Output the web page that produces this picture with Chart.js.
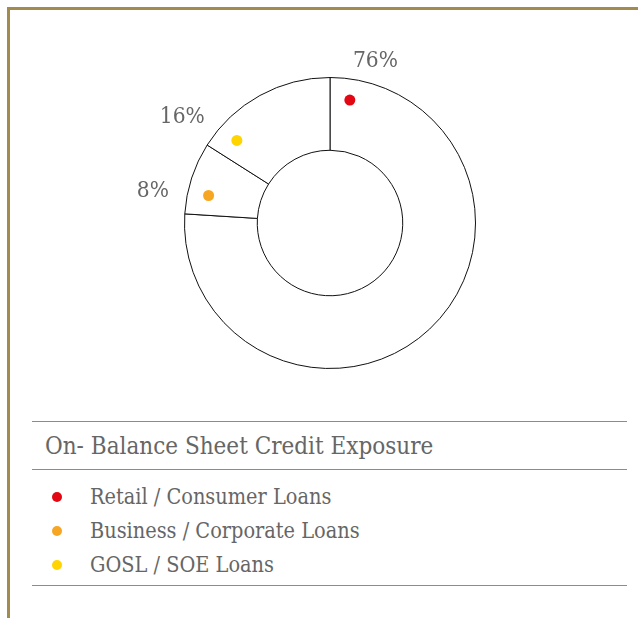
<!DOCTYPE html>
<html>
<head>
<meta charset="utf-8">
<script src="https://cdn.jsdelivr.net/npm/chart.js@4"></script>
<style>
  body { margin: 0; background: #fff; font-family: "DejaVu Serif Condensed", "DejaVu Serif", serif; color: #666; }
  .frame { position: absolute; left: 7px; top: 7px; right: 0; bottom: 0; border-top: 3px solid #a38b4f; border-left: 3px solid #a38b4f; }
  .chart-box { position: absolute; left: 110px; top: 30px; width: 440px; height: 386px; }
  .panel { position: absolute; left: 32px; top: 421px; width: 595px; }
  .panel h2 { margin: 0; font-weight: normal; font-size: 24px; line-height: 45px; padding: 2px 0 0 13px; border-top: 1px solid #8c8c8c; border-bottom: 1px solid #8c8c8c; }
  .panel ul { list-style: none; margin: 0; padding: 10px 0 3px; border-bottom: 1px solid #8c8c8c; }
  .panel li { font-size: 21.5px; line-height: 34px; padding-left: 58px; position: relative; }
  .panel li span { position: absolute; left: 20px; top: 12px; width: 10px; height: 10px; border-radius: 50%; }
</style>
</head>
<body>
<div class="frame"></div>
<div class="chart-box"><canvas id="exposureChart"></canvas></div>
<div class="panel">
  <h2 id="title"></h2>
  <ul id="legend"></ul>
</div>
<script>
const title = 'On- Balance Sheet Credit Exposure';
const categories = ['Retail / Consumer Loans', 'Business / Corporate Loans', 'GOSL / SOE Loans'];
const shares = [76, 8, 16];
const dotColors = ['#e30613', '#f6a623', '#ffd400'];

document.getElementById('title').textContent = title;
const legend = document.getElementById('legend');
categories.forEach((name, i) => {
  const li = document.createElement('li');
  li.innerHTML = '<span style="background:' + dotColors[i] + '"></span>' + name;
  legend.appendChild(li);
});

// dots near each slice's leading edge plus the percentage outside the ring
const sliceMarkers = {
  id: 'sliceMarkers',
  afterDatasetsDraw(chart) {
    const ctx = chart.ctx;
    const meta = chart.getDatasetMeta(0);
    ctx.save();
    meta.data.forEach((arc, i) => {
      const { x, y, startAngle, outerRadius } = arc.getProps(['x', 'y', 'startAngle', 'outerRadius'], true);
      const a = startAngle + 0.16;
      ctx.fillStyle = dotColors[i];
      ctx.beginPath();
      ctx.arc(x + Math.cos(a) * (outerRadius - 21), y + Math.sin(a) * (outerRadius - 21), 5.5, 0, Math.PI * 2);
      ctx.fill();

      const la = startAngle + 0.14;
      const lx = x + Math.cos(la) * (outerRadius + 19);
      const ly = y + Math.sin(la) * (outerRadius + 19);
      ctx.fillStyle = '#666';
      ctx.font = '22.5px "DejaVu Serif Condensed", "DejaVu Serif", serif';
      ctx.textBaseline = 'middle';
      ctx.textAlign = Math.cos(la) >= 0 ? 'left' : 'right';
      ctx.fillText(shares[i] + '%', lx, ly + 1);
    });
    ctx.restore();
  }
};

new Chart(document.getElementById('exposureChart'), {
  type: 'doughnut',
  data: {
    labels: categories,
    datasets: [{
      data: shares,
      backgroundColor: '#fff',
      borderColor: '#111',
      borderWidth: 1,
      hoverOffset: 0
    }]
  },
  options: {
    responsive: true,
    maintainAspectRatio: false,
    animation: false,
    cutout: '50%',
    layout: { padding: { top: 47, bottom: 47, left: 74, right: 74 } },
    plugins: {
      legend: { display: false },
      tooltip: { enabled: false }
    }
  },
  plugins: [sliceMarkers]
});
</script>
</body>
</html>
